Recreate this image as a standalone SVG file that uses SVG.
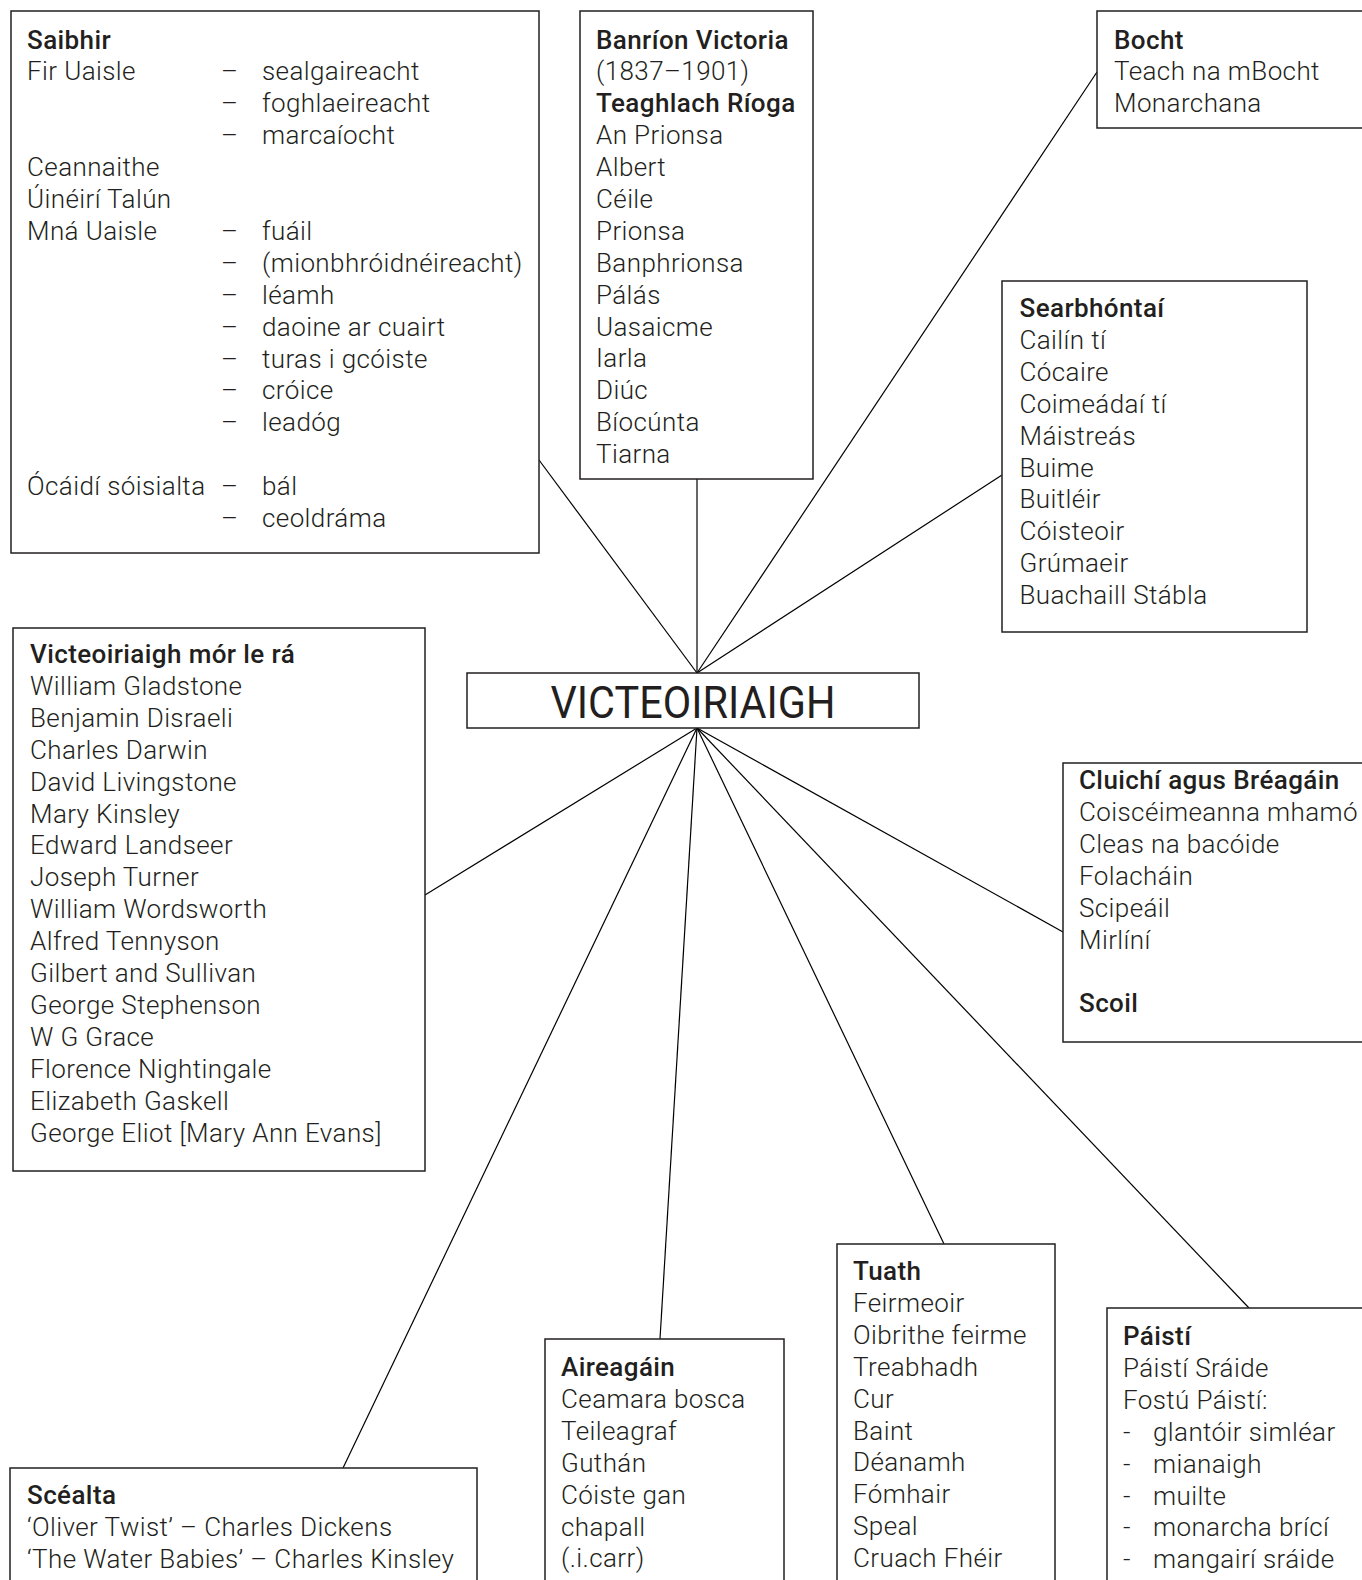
<svg xmlns="http://www.w3.org/2000/svg" width="1362" height="1580" viewBox="0 0 1362 1580">
<style>
.box{fill:#fff;stroke:#231f20;stroke-width:1.5}
.t{font-family:Roboto,"Liberation Sans",sans-serif;font-size:26px;font-weight:300;fill:#231f20;letter-spacing:0.4px}
.b{font-weight:500}
.c{stroke:#000;stroke-width:1.2;fill:none}
.hub{font-family:Roboto,"Liberation Sans",sans-serif;font-size:44px;font-weight:400;fill:#231f20}
</style>
<rect width="1362" height="1580" fill="#fff"/>
<g id="connectors">
<line class="c" x1="697" y1="673" x2="539" y2="460"/>
<line class="c" x1="697" y1="673" x2="697" y2="479"/>
<line class="c" x1="697" y1="673" x2="1097" y2="72"/>
<line class="c" x1="697" y1="673" x2="1002" y2="475"/>
<line class="c" x1="697" y1="728" x2="425" y2="895"/>
<line class="c" x1="697" y1="728" x2="1063" y2="932"/>
<line class="c" x1="697" y1="728" x2="343" y2="1468"/>
<line class="c" x1="697" y1="728" x2="660" y2="1339"/>
<line class="c" x1="697" y1="728" x2="944" y2="1244"/>
<line class="c" x1="697" y1="728" x2="1249" y2="1308"/>
</g>
<g id="center">
<rect class="box" x="467" y="673" width="452" height="55"/>
<text class="hub" x="693" y="718" text-anchor="middle" textLength="285" lengthAdjust="spacingAndGlyphs">VICTEOIRIAIGH</text>
</g>
<g id="saibhir">
<rect class="box" x="11" y="11" width="528" height="542"/>
<text class="t">
<tspan class="b" x="27" y="48.5">Saibhir</tspan>
<tspan x="27" y="80.4">Fir Uaisle</tspan>
<tspan x="27" y="176.1">Ceannaithe</tspan>
<tspan x="27" y="208">Úinéirí Talún</tspan>
<tspan x="27" y="239.9">Mná Uaisle</tspan>
<tspan x="27" y="495.1">Ócáidí sóisialta</tspan>
</text>
<text class="t">
<tspan x="221" y="80.4">–</tspan><tspan x="221" y="112.3">–</tspan><tspan x="221" y="144.2">–</tspan>
<tspan x="221" y="239.9">–</tspan><tspan x="221" y="271.8">–</tspan><tspan x="221" y="303.7">–</tspan>
<tspan x="221" y="335.6">–</tspan><tspan x="221" y="367.5">–</tspan><tspan x="221" y="399.4">–</tspan>
<tspan x="221" y="431.3">–</tspan><tspan x="221" y="495.1">–</tspan><tspan x="221" y="527">–</tspan>
</text>
<text class="t">
<tspan x="262" y="80.4">sealgaireacht</tspan>
<tspan x="262" y="112.3">foghlaeireacht</tspan>
<tspan x="262" y="144.2">marcaíocht</tspan>
<tspan x="262" y="239.9">fuáil</tspan>
<tspan x="262" y="271.8">(mionbhróidnéireacht)</tspan>
<tspan x="262" y="303.7">léamh</tspan>
<tspan x="262" y="335.6">daoine ar cuairt</tspan>
<tspan x="262" y="367.5">turas i gcóiste</tspan>
<tspan x="262" y="399.4">cróice</tspan>
<tspan x="262" y="431.3">leadóg</tspan>
<tspan x="262" y="495.1">bál</tspan>
<tspan x="262" y="527">ceoldráma</tspan>
</text>
</g>
<g id="banrion">
<rect class="box" x="580" y="11" width="233" height="468"/>
<text class="t">
<tspan class="b" x="596" y="48.5">Banríon Victoria</tspan>
<tspan x="596" dy="31.9">(1837–1901)</tspan>
<tspan class="b" x="596" dy="31.9">Teaghlach Ríoga</tspan>
<tspan x="596" dy="31.9">An Prionsa</tspan>
<tspan x="596" dy="31.9">Albert</tspan>
<tspan x="596" dy="31.9">Céile</tspan>
<tspan x="596" dy="31.9">Prionsa</tspan>
<tspan x="596" dy="31.9">Banphrionsa</tspan>
<tspan x="596" dy="31.9">Pálás</tspan>
<tspan x="596" dy="31.9">Uasaicme</tspan>
<tspan x="596" dy="31.9">Iarla</tspan>
<tspan x="596" dy="31.9">Diúc</tspan>
<tspan x="596" dy="31.9">Bíocúnta</tspan>
<tspan x="596" dy="31.9">Tiarna</tspan>
</text>
</g>
<g id="bocht">
<rect class="box" x="1097" y="11" width="280" height="117"/>
<text class="t">
<tspan class="b" x="1114" y="48.5">Bocht</tspan>
<tspan x="1114" dy="31.9">Teach na mBocht</tspan>
<tspan x="1114" dy="31.9">Monarchana</tspan>
</text>
</g>
<g id="searbhontai">
<rect class="box" x="1002" y="281" width="305" height="351"/>
<text class="t">
<tspan class="b" x="1019.5" y="317">Searbhóntaí</tspan>
<tspan x="1019.5" dy="31.9">Cailín tí</tspan>
<tspan x="1019.5" dy="31.9">Cócaire</tspan>
<tspan x="1019.5" dy="31.9">Coimeádaí tí</tspan>
<tspan x="1019.5" dy="31.9">Máistreás</tspan>
<tspan x="1019.5" dy="31.9">Buime</tspan>
<tspan x="1019.5" dy="31.9">Buitléir</tspan>
<tspan x="1019.5" dy="31.9">Cóisteoir</tspan>
<tspan x="1019.5" dy="31.9">Grúmaeir</tspan>
<tspan x="1019.5" dy="31.9">Buachaill Stábla</tspan>
</text>
</g>
<g id="mor-le-ra">
<rect class="box" x="13" y="628" width="412" height="543"/>
<text class="t">
<tspan class="b" x="30" y="663">Victeoiriaigh mór le rá</tspan>
<tspan x="30" dy="31.9">William Gladstone</tspan>
<tspan x="30" dy="31.9">Benjamin Disraeli</tspan>
<tspan x="30" dy="31.9">Charles Darwin</tspan>
<tspan x="30" dy="31.9">David Livingstone</tspan>
<tspan x="30" dy="31.9">Mary Kinsley</tspan>
<tspan x="30" dy="31.9">Edward Landseer</tspan>
<tspan x="30" dy="31.9">Joseph Turner</tspan>
<tspan x="30" dy="31.9">William Wordsworth</tspan>
<tspan x="30" dy="31.9">Alfred Tennyson</tspan>
<tspan x="30" dy="31.9">Gilbert and Sullivan</tspan>
<tspan x="30" dy="31.9">George Stephenson</tspan>
<tspan x="30" dy="31.9">W G Grace</tspan>
<tspan x="30" dy="31.9">Florence Nightingale</tspan>
<tspan x="30" dy="31.9">Elizabeth Gaskell</tspan>
<tspan x="30" dy="31.9">George Eliot [Mary Ann Evans]</tspan>
</text>
</g>
<g id="cluichi">
<rect class="box" x="1063" y="763" width="320" height="279"/>
<text class="t">
<tspan class="b" x="1079" y="789">Cluichí agus Bréagáin</tspan>
<tspan x="1079" dy="31.9">Coiscéimeanna mhamó</tspan>
<tspan x="1079" dy="31.9">Cleas na bacóide</tspan>
<tspan x="1079" dy="31.9">Folacháin</tspan>
<tspan x="1079" dy="31.9">Scipeáil</tspan>
<tspan x="1079" dy="31.9">Mirlíní</tspan>
<tspan class="b" x="1079" dy="63.8">Scoil</tspan>
</text>
</g>
<g id="scealta">
<rect class="box" x="10" y="1468" width="467" height="130"/>
<text class="t">
<tspan class="b" x="27" y="1504">Scéalta</tspan>
<tspan x="27" dy="31.9">‘Oliver Twist’ – Charles Dickens</tspan>
<tspan x="27" dy="31.9">‘The Water Babies’ – Charles Kinsley</tspan>
</text>
</g>
<g id="aireagain">
<rect class="box" x="545" y="1339" width="239" height="260"/>
<text class="t">
<tspan class="b" x="561" y="1376">Aireagáin</tspan>
<tspan x="561" dy="31.9">Ceamara bosca</tspan>
<tspan x="561" dy="31.9">Teileagraf</tspan>
<tspan x="561" dy="31.9">Guthán</tspan>
<tspan x="561" dy="31.9">Cóiste gan</tspan>
<tspan x="561" dy="31.9">chapall</tspan>
<tspan x="561" dy="31.9">(.i.carr)</tspan>
</text>
</g>
<g id="tuath">
<rect class="box" x="837" y="1244" width="218" height="355"/>
<text class="t">
<tspan class="b" x="853" y="1280">Tuath</tspan>
<tspan x="853" dy="31.9">Feirmeoir</tspan>
<tspan x="853" dy="31.9">Oibrithe feirme</tspan>
<tspan x="853" dy="31.9">Treabhadh</tspan>
<tspan x="853" dy="31.9">Cur</tspan>
<tspan x="853" dy="31.9">Baint</tspan>
<tspan x="853" dy="31.9">Déanamh</tspan>
<tspan x="853" dy="31.9">Fómhair</tspan>
<tspan x="853" dy="31.9">Speal</tspan>
<tspan x="853" dy="31.9">Cruach Fhéir</tspan>
</text>
</g>
<g id="paisti">
<rect class="box" x="1107" y="1308" width="280" height="291"/>
<text class="t">
<tspan class="b" x="1123" y="1345">Páistí</tspan>
<tspan x="1123" dy="31.9">Páistí Sráide</tspan>
<tspan x="1123" dy="31.9">Fostú Páistí:</tspan>
<tspan x="1123" dy="31.9">-</tspan><tspan x="1153">glantóir simléar</tspan>
<tspan x="1123" dy="31.9">-</tspan><tspan x="1153">mianaigh</tspan>
<tspan x="1123" dy="31.9">-</tspan><tspan x="1153">muilte</tspan>
<tspan x="1123" dy="31.9">-</tspan><tspan x="1153">monarcha brící</tspan>
<tspan x="1123" dy="31.9">-</tspan><tspan x="1153">mangairí sráide</tspan>
</text>
</g>
</svg>
